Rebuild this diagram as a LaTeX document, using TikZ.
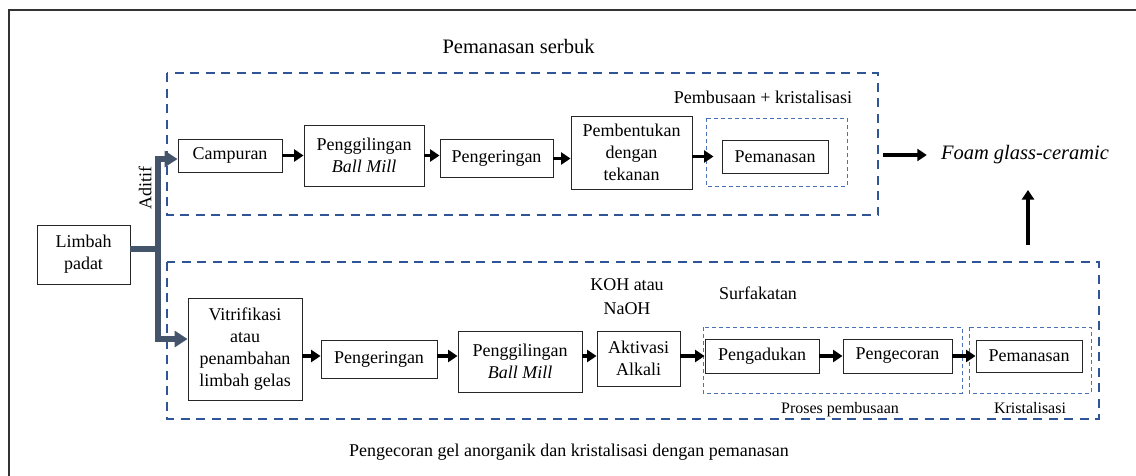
\documentclass[tikz,border=0pt]{standalone}
\usepackage{fontspec}
\setmainfont{Liberation Serif}
\usetikzlibrary{arrows.meta,calc}
\definecolor{dblue}{HTML}{2F5597}
\definecolor{lblue}{HTML}{4A70B5}
\definecolor{gblue}{HTML}{44546A}
\begin{document}
\begin{tikzpicture}[x=1pt,y=-1pt,
  box/.style={draw=black!85, line width=0.9pt, inner sep=0pt, align=center,
    font=\fontsize{18}{22}\selectfont},
  lbl/.style={inner sep=0pt, align=center, font=\fontsize{18}{24}\selectfont},
  small/.style={inner sep=0pt, align=center, font=\fontsize{16}{19}\selectfont},
  big/.style={inner sep=0pt, align=center, font=\fontsize{20.5}{24}\selectfont},
  blk/.style={draw=black, line width=3.5pt, -{Triangle[length=9.5pt,width=12pt]}},
  gline/.style={draw=gblue, line width=6pt, line join=miter, -{Triangle[length=13pt,width=16pt]}},
  bigdash/.style={draw=dblue, line width=2.6pt, dash pattern=on 9pt off 6.5pt},
  thindash/.style={draw=lblue, line width=0.9pt, dash pattern=on 4pt off 3pt}]
\useasboundingbox (0,0) rectangle (1136,475);
\fill[white] (0,0) rectangle (1136,475);
\draw[line width=2pt, black!80] (9,10) rectangle (1160,495);

% group frames
\draw[bigdash] (167,73) rectangle (878,215);
\draw[bigdash] (167,262) rectangle (1099,419);
\draw[thindash] (706,118) rectangle (847,186);
\draw[thindash] (703,327) rectangle (962,393);
\draw[thindash] (969,327) rectangle (1091,393);
\coordinate (topR) at (878,155);

% texts
\node[big] (title) at (518.5,46) {Pemanasan serbuk};
\node[lbl] (pklbl) at (763,97) {Pembusaan + kristalisasi};
\node[big] (foam) at (1025,155) {\textit{Foam glass-ceramic}};
\node[lbl] (koh) at (627,297) {KOH atau\\NaOH};
\node[lbl] (surf) at (758,293) {Surfakatan};
\node[small, anchor=base] (pp) at (840,413) {Proses pembusaan};
\node[small, anchor=base] (kr) at (1030,413) {Kristalisasi};
\node[lbl] (cap) at (569,452) {Pengecoran gel anorganik dan kristalisasi dengan pemanasan};
\node[lbl, rotate=90] (adt) at (145,188) {Aditif};

% top row
\node[box, minimum width=104, minimum height=33] (camp) at (230,155.5) {Campuran};
\node[box, minimum width=120, minimum height=61] (pg1) at (364,155.5) {Penggilingan\\\textit{Ball Mill}};
\node[box, minimum width=113, minimum height=38] (pk1) at (496.5,158.5) {Pengeringan};
\node[box, minimum width=121, minimum height=73] (pb) at (631.5,152.5) {Pembentukan\\dengan\\tekanan};
\node[box, minimum width=106, minimum height=33] (pm1) at (775,156.5) {Pemanasan};

% bottom row
\node[box, minimum width=93, minimum height=59] (limbah) at (83.5,254.5) {Limbah\\padat};
\node[box, minimum width=114, minimum height=102] (vit) at (245,349) {Vitrifikasi\\atau\\penambahan\\limbah gelas};
\node[box, minimum width=116, minimum height=38] (pk2) at (379,359) {Pengeringan};
\node[box, minimum width=124, minimum height=61] (pg2) at (520,361.5) {Penggilingan\\\textit{Ball Mill}};
\node[box, minimum width=83, minimum height=55] (akt) at (638.5,358.5) {Aktivasi\\Alkali};
\node[box, minimum width=114, minimum height=34] (adk) at (762,356) {Pengadukan};
\node[box, minimum width=109, minimum height=34] (cor) at (897.5,356) {Pengecoran};
\node[box, minimum width=106, minimum height=32] (pm2) at (1029,356) {Pemanasan};

% thick branch from Limbah padat
\coordinate (j) at (158,249);
\coordinate (jt) at (158,159);
\coordinate (jb) at (158,339);
\draw[draw=gblue, line width=6pt] (limbah.east |- j) -- ([xshift=3pt]j);
\draw[gline] (j) -- (jt) -- (camp.west |- jt);
\draw[gline] (j) -- (jb) -- (vit.west |- jb);

% top arrows
\draw[blk] (camp.east) -- (camp.east -| pg1.west);
\draw[blk] (pg1.east) -- (pg1.east -| pk1.west);
\draw[blk] (pk1.east) -- (pk1.east -| pb.west);
\draw[blk] (pm1.west -| pb.east) -- ([xshift=-8pt]pm1.west);
\draw[blk] ([xshift=5pt]topR) -- ([xshift=-14pt]foam.west);

% bottom arrows
\draw[blk] (vit.east |- adk) -- (pk2.west |- adk);
\draw[blk] (pk2.east |- adk) -- (pg2.west |- adk);
\draw[blk] (pg2.east |- adk) -- (akt.west |- adk);
\draw[blk] (akt.east |- adk) -- (adk.west);
\draw[blk] (adk.east) -- (cor.west);
\draw[blk] (cor.east) -- (pm2.west);

% arrow up to product
\coordinate (upS) at (1028,245);
\coordinate (upE) at (1028,190);
\draw[blk] (upS) -- (upE);
\end{tikzpicture}
\end{document}
